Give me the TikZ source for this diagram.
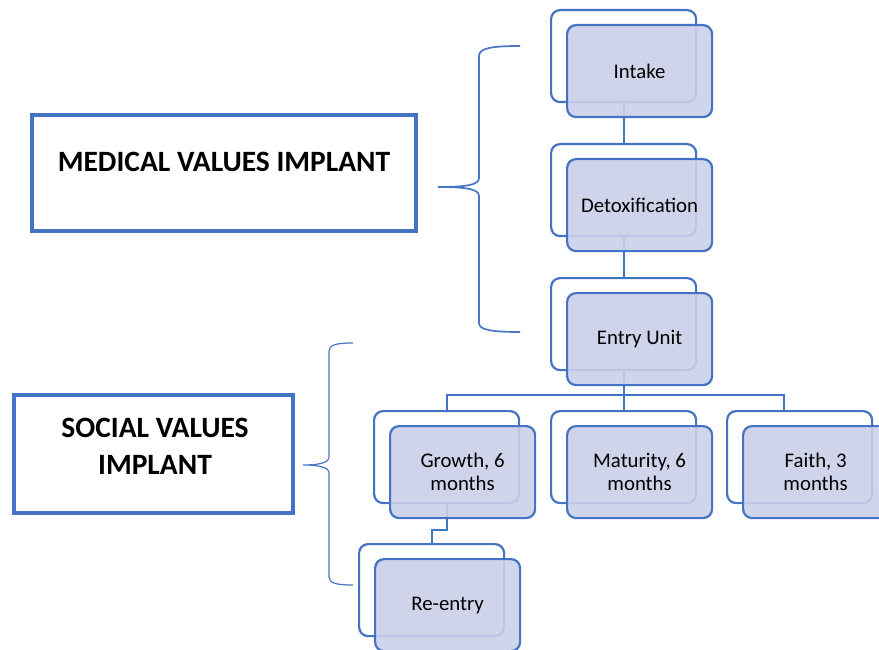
\documentclass[tikz,border=0pt]{standalone}
\usepackage{fontspec}
\setmainfont{Carlito}
\usetikzlibrary{backgrounds}
\definecolor{accent}{HTML}{4472C4}
\definecolor{tint}{HTML}{CAD0E8}
\definecolor{bracecol}{HTML}{4A76C6}
\tikzset{
  card/.style={draw=accent, line width=2.2pt, rounded corners=9pt,
    minimum width=145pt, minimum height=92pt, inner sep=0pt, anchor=north west},
  backcard/.style={card, fill=white},
  frontcard/.style={card, fill=tint, fill opacity=0.9, text opacity=1,
    align=center, font=\fontsize{20.8}{23.5}\selectfont},
  link/.style={draw=accent, line width=2.2pt},
  headbox/.style={draw=accent, line width=4pt, inner sep=0pt},
  headtext/.style={font=\fontsize{29.5}{37}\selectfont\bfseries, align=center},
  brace/.style={draw=bracecol, line width=1.7pt}
}
% back card + front card pair
\newcommand{\stackcard}[4]{%
  \node[backcard] (#1b) at (#2,#3) {};
  \node[frontcard] (#1) at (#2+16,#3+15) {#4};
}
\begin{document}
\begin{tikzpicture}[x=1pt,y=-1pt]
\useasboundingbox (0,0) rectangle (879,650);
\clip (0,0) rectangle (879,650);

% headings
\node[headbox, minimum width=384pt, minimum height=116pt] (medbox) at (224,173) {};
\node[headtext] (medtext) at (224,162) {MEDICAL VALUES IMPLANT};
\node[headbox, minimum width=279pt, minimum height=118pt] (socbox) at (153.5,454) {};
\node[headtext] (soctext) at (155,446.5) {SOCIAL VALUES\\IMPLANT};

% cards
\stackcard{intake}{550}{9}{Intake}
\stackcard{detox}{550}{143}{Detoxification}
\stackcard{entry}{550}{277}{Entry Unit}
\stackcard{growth}{373}{410}{Growth, 6\\months}
\stackcard{maturity}{550}{410}{Maturity, 6\\months}
\stackcard{faith}{726}{410}{Faith, 3\\months}
\stackcard{reentry}{358}{543}{Re-entry}

% connectors
\begin{scope}[on background layer]
  \draw[link] (intakeb.south) -- (detoxb.north);
  \draw[link] (detoxb.south) -- (entryb.north);
  \coordinate (bus) at ([yshift=-24pt]entryb.south);
  \draw[link] (entryb.south) -- (bus);
  \draw[link] (growthb.north) |- (bus);
  \draw[link] (maturityb.north) -- (bus);
  \draw[link] ([xshift=-16pt]faithb.north) |- (bus);
  \draw[link] (growthb.south) -- ++(0,26) -| (reentryb.north);
\end{scope}

% braces
\draw[brace] (520,46) .. controls (492,46) and (479,48) .. (479,56)
  -- (479,178) .. controls (479,185) and (466,187) .. (438,187)
  .. controls (466,187) and (479,189) .. (479,196)
  -- (479,323) .. controls (479,330) and (492,332) .. (520,332);
\draw[brace, line width=1.2pt] (353,343) .. controls (336,343) and (329,345) .. (329,351)
  -- (329,457) .. controls (329,463) and (318,465) .. (303,465)
  .. controls (318,465) and (329,467) .. (329,473)
  -- (329,577) .. controls (329,583) and (336,585) .. (353,585);
\end{tikzpicture}
\end{document}
